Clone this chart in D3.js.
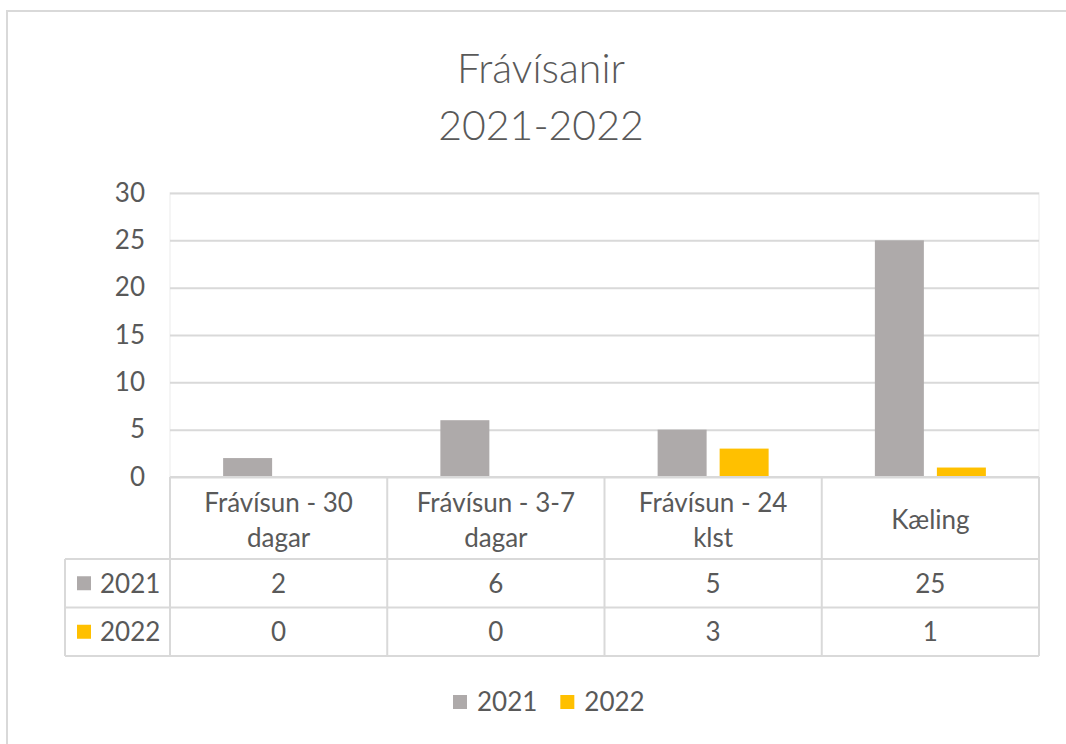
<!DOCTYPE html>
<html>
<head>
<meta charset="utf-8">
<script src="https://cdn.jsdelivr.net/npm/d3@7"></script>
<style>
  html, body { margin: 0; padding: 0; background: #fff; }
  svg { display: block; font-family: Lato, "Open Sans", sans-serif; }
  text { fill: #595959; }
</style>
</head>
<body>
<svg width="1066" height="744"></svg>
<script>
// chart data
const categories = ['Frávísun - 30 dagar', 'Frávísun - 3-7 dagar', 'Frávísun - 24 klst', 'Kæling'];
const seriesNames = ['2021', '2022'];
const values2021 = [2, 6, 5, 25];
const values2022 = [0, 0, 3, 1];
const yTicks = [0, 5, 10, 15, 20, 25, 30];
const titleLines = ['Frávísanir', '2021-2022'];

const colors = { '2021': '#AEAAAA', '2022': '#FFC000' };
const seriesValues = { '2021': values2021, '2022': values2022 };

const svg = d3.select('svg');
const width = +svg.attr('width');

const margin = { top: 193, left: 170, right: 1039, bottom: 477 };
const gridColor = '#D9D9D9';

// outer chart frame
svg.append('rect')
  .attr('x', 7).attr('y', 11)
  .attr('width', 1100).attr('height', 800)
  .attr('fill', 'none')
  .attr('stroke', '#D9D9D9')
  .attr('stroke-width', 2);

// title
svg.append('g')
  .selectAll('text')
  .data(titleLines)
  .join('text')
  .attr('x', 541)
  .attr('y', (d, i) => 68 + i * 57)
  .attr('dy', '0.36em')
  .attr('text-anchor', 'middle')
  .attr('font-size', 41)
  .attr('font-weight', 300)
  .text(d => d);

// scales
const x0 = d3.scaleBand()
  .domain(categories)
  .range([margin.left, margin.right]);

const groupWidth = 111;
const x1 = d3.scaleBand()
  .domain(seriesNames)
  .range([0, groupWidth])
  .paddingInner(0.21);

const y = d3.scaleLinear()
  .domain([0, 30])
  .range([margin.bottom, margin.top]);

// plot area border
svg.append('rect')
  .attr('x', margin.left).attr('y', margin.top)
  .attr('width', margin.right - margin.left)
  .attr('height', margin.bottom - margin.top)
  .attr('fill', 'none')
  .attr('stroke', '#F2F2F2')
  .attr('stroke-width', 1.5);

// y axis with gridlines
const yAxis = d3.axisLeft(y)
  .tickValues(yTicks)
  .tickSize(-(margin.right - margin.left))
  .tickPadding(25);

const yAxisG = svg.append('g')
  .attr('transform', `translate(${margin.left},0)`)
  .call(yAxis);

yAxisG.selectAll('.domain').remove();
yAxisG.selectAll('.tick line')
  .attr('stroke', gridColor)
  .attr('stroke-width', 2);
yAxisG.selectAll('.tick text')
  .attr('font-size', 26)
  .attr('font-family', 'Lato, sans-serif')
  .attr('fill', '#595959');

// bars
const groups = svg.append('g')
  .selectAll('g')
  .data(categories)
  .join('g')
  .attr('transform', d => `translate(${x0(d) + (x0.bandwidth() - groupWidth) / 2},0)`);

groups.selectAll('rect')
  .data((d, i) => seriesNames.map(s => ({ s, v: seriesValues[s][i] })))
  .join('rect')
  .attr('x', d => x1(d.s))
  .attr('width', x1.bandwidth())
  .attr('y', d => y(d.v))
  .attr('height', d => y(0) - y(d.v))
  .attr('fill', d => colors[d.s]);

// data table
const headerBottom = 559;
const rowHeight = 48.5;
const tableLeft = 65;
const table = svg.append('g');

const lineStyle = sel => sel.attr('stroke', gridColor).attr('stroke-width', 2);

// horizontal lines
table.append('line')
  .attr('x1', margin.left).attr('x2', margin.right)
  .attr('y1', margin.bottom).attr('y2', margin.bottom)
  .call(lineStyle);
[0, 1, 2].forEach(i => {
  table.append('line')
    .attr('x1', tableLeft).attr('x2', margin.right)
    .attr('y1', headerBottom + i * rowHeight).attr('y2', headerBottom + i * rowHeight)
    .call(lineStyle);
});
// vertical lines
const tableBottom = headerBottom + 2 * rowHeight;
table.append('line')
  .attr('x1', tableLeft).attr('x2', tableLeft)
  .attr('y1', headerBottom).attr('y2', tableBottom)
  .call(lineStyle);
categories.concat([null]).forEach((c, i) => {
  const xx = c ? x0(c) : margin.right;
  table.append('line')
    .attr('x1', xx).attr('x2', xx)
    .attr('y1', margin.bottom).attr('y2', tableBottom)
    .call(lineStyle);
});

// header labels, split off last word when too long
const splitLabel = label => {
  const words = label.split(' ');
  if (words.length < 2 || label.length <= 10) return [label];
  return [words.slice(0, -1).join(' '), words[words.length - 1]];
};

table.selectAll('.cat-label')
  .data(categories)
  .join('text')
  .attr('class', 'cat-label')
  .attr('text-anchor', 'middle')
  .attr('font-size', 26)
  .each(function (d) {
    const lines = splitLabel(d);
    const cx = x0(d) + x0.bandwidth() / 2;
    const cy = (margin.bottom + headerBottom) / 2 + 2;
    const lh = 35;
    d3.select(this).selectAll('tspan')
      .data(lines)
      .join('tspan')
      .attr('x', cx)
      .attr('y', (l, i) => cy + (i - (lines.length - 1) / 2) * lh)
      .attr('dy', '0.36em')
      .text(l => l);
  });

// value rows
seriesNames.forEach((s, r) => {
  const cy = headerBottom + r * rowHeight + rowHeight / 2;
  table.append('rect')
    .attr('x', 77).attr('y', cy - 7)
    .attr('width', 14).attr('height', 14)
    .attr('fill', colors[s]);
  table.append('text')
    .attr('x', 100).attr('y', cy)
    .attr('dy', '0.36em')
    .attr('font-size', 26)
    .text(s);
  table.selectAll(`.val-${s}`)
    .data(categories)
    .join('text')
    .attr('class', `val-${s}`)
    .attr('x', d => x0(d) + x0.bandwidth() / 2)
    .attr('y', cy)
    .attr('dy', '0.36em')
    .attr('text-anchor', 'middle')
    .attr('font-size', 26)
    .text((d, i) => seriesValues[s][i]);
});

// legend
const legend = svg.append('g').attr('transform', 'translate(453,702)');
let lx = 0;
seriesNames.forEach(s => {
  const item = legend.append('g').attr('transform', `translate(${lx},0)`);
  item.append('rect')
    .attr('x', 0).attr('y', -7)
    .attr('width', 14).attr('height', 14)
    .attr('fill', colors[s]);
  const t = item.append('text')
    .attr('x', 24).attr('y', 0)
    .attr('dy', '0.36em')
    .attr('font-size', 26)
    .text(s);
  lx += 24 + t.node().getComputedTextLength() + 23;
});
</script>
</body>
</html>
